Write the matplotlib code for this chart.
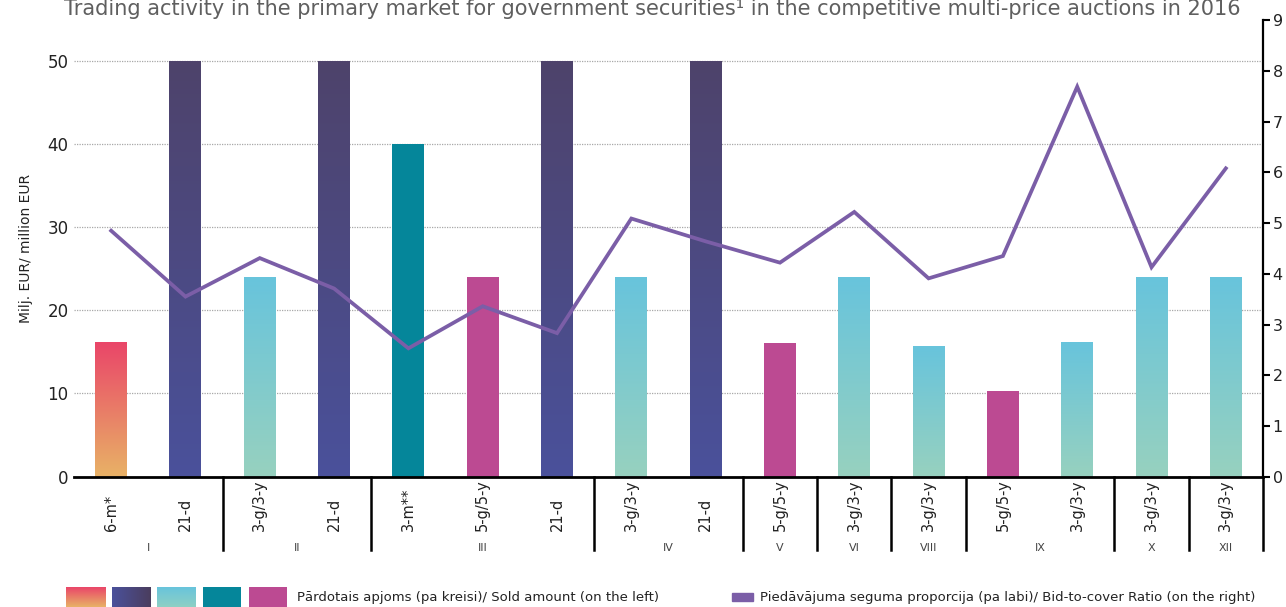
import matplotlib
matplotlib.use("Agg")
import matplotlib.pyplot as plt
import numpy as np
from matplotlib.colors import LinearSegmentedColormap
from matplotlib.patches import Rectangle

# --- data -------------------------------------------------------------
categories = ["6-m*", "21-d", "3-g/3-y", "21-d", "3-m**", "5-g/5-y", "21-d",
              "3-g/3-y", "21-d", "5-g/5-y", "3-g/3-y", "3-g/3-y", "5-g/5-y",
              "3-g/3-y", "3-g/3-y", "3-g/3-y"]
sold_amount = [16.2, 50, 24, 50, 40, 24, 50, 24, 50, 16.1, 24, 15.7, 10.3, 16.2, 24, 24]
bid_to_cover = [4.85, 3.55, 4.31, 3.71, 2.53, 3.36, 2.83, 5.09, 4.64, 4.22,
                5.22, 3.91, 4.35, 7.69, 4.13, 6.08]
month_labels = ["I", "II", "III", "IV", "V", "VI", "VIII", "IX", "X", "XII"]
month_sizes = [2, 2, 3, 2, 1, 1, 1, 2, 1, 1]

title = "Trading activity in the primary market for government securities¹ in the competitive multi-price auctions in 2016"
ylabel_left = "Milj. EUR/ million EUR"
legend_bars = "Pārdotais apjoms (pa kreisi)/ Sold amount (on the left)"
legend_line = "Piedāvājuma seguma proporcija (pa labi)/ Bid-to-cover Ratio (on the right)"

# --- styles -----------------------------------------------------------
STYLES = {
    "6-m*": ("v", "#EA4669", "#E8B266"),
    "21-d": ("v", "#4E436B", "#4A519B"),
    "3-g/3-y": ("v", "#68C4DC", "#97D1BF"),
    "3-m**": ("s", "#05869A", None),
    "5-g/5-y": ("s", "#BC4A92", None),
}
LINE_COLOR = "#7B5EA7"

plt.rcParams["font.family"] = "DejaVu Sans"

W, H = 1286, 607
fig = plt.figure(figsize=(W / 100, H / 100), dpi=100)
ax = fig.add_axes([74 / W, (H - 476.6) / H, (1263 - 74) / W, 456.3 / H])

x = np.arange(len(categories))
bar_w = 0.43
ax.set_xlim(-0.5, len(categories) - 0.5)
ax.set_ylim(0, 54.9)

for yv in range(10, 60, 10):
    ax.axhline(yv, color="#A8A8A8", lw=0.9, ls=(0, (1, 1)), zorder=1)

bars = ax.bar(x, sold_amount, width=bar_w, color="none", zorder=2)


def gradient(top, bottom):
    cmap = LinearSegmentedColormap.from_list("g", [bottom, top])
    return np.linspace(0, 1, 100)[:, None], cmap


for rect, cat in zip(bars, categories):
    kind, c1, c2 = STYLES[cat]
    x0, y0 = rect.get_x(), rect.get_y()
    x1, y1 = x0 + rect.get_width(), y0 + rect.get_height()
    if kind == "s":
        ax.add_patch(Rectangle((x0, y0), x1 - x0, y1 - y0, color=c1, zorder=2, lw=0))
    else:
        g, cmap = gradient(c1, c2)
        ax.imshow(g, cmap=cmap, extent=[x0, x1, y0, y1], origin="lower",
                  aspect="auto", zorder=2, interpolation="bilinear")

ax.set_xlim(-0.5, len(categories) - 0.5)
ax.set_ylim(0, 54.9)
ax.set_yticks(range(0, 60, 10))
ax.tick_params(axis="y", length=0, labelsize=12, pad=4, labelcolor="#222222")
ax.set_xticks([])
for s in ("left", "top", "right"):
    ax.spines[s].set_visible(False)
ax.spines["bottom"].set_linewidth(2)
ax.spines["bottom"].set_zorder(5)
ax.set_ylabel(ylabel_left, fontsize=10, labelpad=10, color="#222222")

# category and month labels
tr = ax.get_xaxis_transform()
for xi, cat in zip(x, categories):
    ax.text(xi, -0.119, cat, rotation=90, ha="center", va="bottom",
            fontsize=10.5, color="#222222", transform=tr)

edges = np.cumsum(month_sizes)
starts = edges - np.array(month_sizes)
for lab, s, e in zip(month_labels, starts, edges):
    ax.text((s + e - 1) / 2, -0.157, lab, ha="center", va="center",
            fontsize=8, color="#444444", transform=tr)
for e in edges:
    ax.plot([e - 0.5, e - 0.5], [0, -0.16], color="black", lw=1.8,
            transform=tr, clip_on=False, zorder=5)

# right axis line
ax2 = ax.twinx()
ax2.plot(x, bid_to_cover, color=LINE_COLOR, lw=2.7, zorder=4,
         solid_joinstyle="miter")
ax2.set_ylim(0, 9)
ax2.set_yticks(range(0, 10))
ax2.tick_params(axis="y", direction="out", length=5, width=1.5,
                labelsize=11.5, pad=2, labelcolor="#222222")
for s in ("left", "top", "bottom"):
    ax2.spines[s].set_visible(False)
ax2.spines["right"].set_linewidth(1.6)
ax2.set_xlim(-0.5, len(categories) - 0.5)

# title (sits at the very top edge as in the source)
fig.text(652 / W, 1 - 15 / H, title, ha="center", va="baseline",
         fontsize=15, color="#5F5F5F")

# legend
leg_y0, leg_h = 1 - 607 / H, 20 / H
leg_boxes = [(66, 105), (112, 151), (157, 196), (203, 241), (249, 287)]
leg_styles = [("v", "#EA4669", "#E8B266"), ("h", "#4A519B", "#4B3D5E"),
              ("v", "#68C4DC", "#8ED0C4"), ("s", "#05869A", None),
              ("s", "#BC4A92", None)]
for (a, b), (kind, c1, c2) in zip(leg_boxes, leg_styles):
    lax = fig.add_axes([a / W, leg_y0, (b - a) / W, leg_h])
    lax.set_axis_off()
    if kind == "s":
        lax.add_patch(Rectangle((0, 0), 1, 1, color=c1, transform=lax.transAxes))
    elif kind == "h":
        cmap = LinearSegmentedColormap.from_list("g", [c1, c2])
        lax.imshow(np.linspace(0, 1, 100)[None, :], cmap=cmap, aspect="auto",
                   extent=[0, 1, 0, 1])
    else:
        cmap = LinearSegmentedColormap.from_list("g", [c2, c1])
        lax.imshow(np.linspace(0, 1, 100)[:, None], cmap=cmap, aspect="auto",
                   origin="lower", extent=[0, 1, 0, 1])
fig.text(297 / W, 1 - 597 / H, legend_bars, ha="left", va="center",
         fontsize=9.5, color="#222222")
fig.patches.append(Rectangle((732 / W, 1 - 601 / H), 21 / W, 8 / H,
                             transform=fig.transFigure, color=LINE_COLOR))
fig.text(760 / W, 1 - 597 / H, legend_line, ha="left", va="center",
         fontsize=9.5, color="#222222")

fig.savefig("out.png", dpi=100)
